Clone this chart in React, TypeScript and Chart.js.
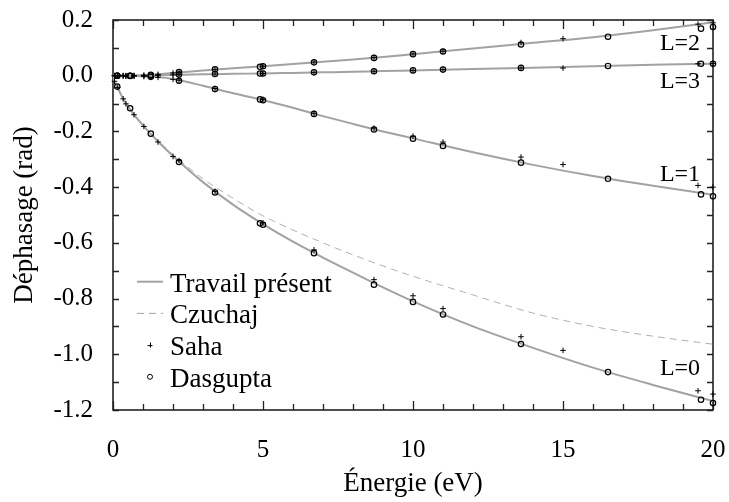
import { useEffect, useRef } from 'react';
import { Chart, registerables } from 'chart.js';

Chart.register(...registerables);

// ---- Data (energies in eV, phase shifts in rad) ----
const curveEnergy = [0, 0.05, 0.15, 0.3, 0.5, 0.75, 1, 1.5, 2, 3, 4, 5, 6, 7, 8, 9, 10, 12, 14, 16, 18, 20];
const travailL0 = [0, -0.02, -0.042, -0.075, -0.11, -0.147, -0.178, -0.236, -0.288, -0.382, -0.463, -0.533, -0.596, -0.653, -0.707, -0.76, -0.81, -0.9, -0.977, -1.048, -1.11, -1.168];
const travailL1 = [0, 0, 0, 0, -0.0005, -0.001, -0.002, -0.005, -0.012, -0.036, -0.063, -0.087, -0.115, -0.145, -0.173, -0.2, -0.225, -0.275, -0.32, -0.36, -0.395, -0.427];
const travailL2 = [0, 0, 0, 0, 0.0005, 0.001, 0.002, 0.005, 0.01, 0.019, 0.027, 0.034, 0.042, 0.05, 0.058, 0.067, 0.077, 0.098, 0.118, 0.138, 0.163, 0.192];
const travailL3 = [0, 0, 0, 0, 0, 0, 0.001, 0.002, 0.003, 0.005, 0.007, 0.008, 0.01, 0.012, 0.014, 0.017, 0.019, 0.024, 0.029, 0.034, 0.039, 0.043];
const czuchajL0 = [0, -0.02, -0.042, -0.075, -0.11, -0.147, -0.177, -0.233, -0.283, -0.37, -0.44, -0.503, -0.554, -0.6, -0.643, -0.683, -0.72, -0.787, -0.852, -0.9, -0.935, -0.964];

const sahaEnergy = [0.05, 0.16, 0.34, 0.43, 0.7, 1.03, 1.5, 2.0, 2.2, 3.4, 5.0, 6.7, 8.7, 10.0, 11.0, 13.6, 15.0, 19.5, 20.0];
const sahaL0 = [-0.02, -0.042, -0.083, -0.101, -0.14, -0.182, -0.238, -0.29, -0.305, -0.415, -0.528, -0.625, -0.732, -0.79, -0.836, -0.937, -0.986, -1.131, -1.143];
const sahaL1 = [0, 0, 0, -0.001, -0.002, -0.003, -0.006, -0.013, -0.016, -0.046, -0.085, -0.135, -0.188, -0.217, -0.238, -0.292, -0.319, -0.394, -0.4];
const sahaL2 = [0, 0, 0, 0, 0.001, 0.002, 0.005, 0.01, 0.013, 0.023, 0.034, 0.049, 0.065, 0.078, 0.088, 0.119, 0.133, 0.185, 0.19];
const sahaL3 = [0, 0, 0, 0, 0, 0, 0.001, 0.003, 0.004, 0.006, 0.008, 0.012, 0.016, 0.019, 0.022, 0.028, 0.0275, 0.043, 0.044];

const dasguptaEnergy = [0.14, 0.57, 1.26, 2.2, 3.4, 4.9, 5.0, 6.7, 8.7, 10.0, 11.0, 13.6, 16.5, 19.6, 20.0];
const dasguptaL0 = [-0.039, -0.117, -0.208, -0.31, -0.419, -0.53, -0.535, -0.637, -0.75, -0.812, -0.857, -0.963, -1.064, -1.163, -1.175];
const dasguptaL1 = [0, -0.001, -0.004, -0.018, -0.048, -0.085, -0.088, -0.137, -0.193, -0.226, -0.252, -0.312, -0.37, -0.426, -0.433];
const dasguptaL2 = [0, 0, 0.003, 0.013, 0.023, 0.032, 0.034, 0.048, 0.064, 0.0775, 0.087, 0.112, 0.14, 0.169, 0.175];
const dasguptaL3 = [0, 0, 0, 0.004, 0.006, 0.008, 0.008, 0.012, 0.016, 0.019, 0.022, 0.028, 0.035, 0.043, 0.043];

const legendLabels = ['Travail présent', 'Czuchaj', 'Saha', 'Dasgupta'];
const waveLabels = ['L=2', 'L=3', 'L=1', 'L=0'];
const waveLabelEnergy = [18.23, 18.23, 18.23, 18.23];
const waveLabelPhase = [0.092, -0.044, -0.379, -1.075];

const xTitle = 'Énergie (eV)';
const yTitle = 'Déphasage (rad)';

const SERIF = "'Liberation Serif', 'Times New Roman', serif";
const CURVE_COLOR = '#a2a2a2';

const toPoints = (xs: number[], ys: number[]) => xs.map((x, i) => ({ x, y: ys[i] }));

const framePlugin = {
  id: 'frameTicks',
  beforeDatasetsDraw(chart: any) {
    const { ctx, chartArea } = chart;
    const { left, right, top, bottom } = chartArea;
    const xs = chart.scales.x;
    const ys = chart.scales.y;
    ctx.save();
    ctx.strokeStyle = '#222';
    ctx.lineWidth = 1.3;
    ctx.beginPath();
    for (let v = 0; v <= 20; v++) {
      const px = Math.round(xs.getPixelForValue(v)) + 0.5;
      const len = v % 5 === 0 ? 9 : 6;
      ctx.moveTo(px, bottom);
      ctx.lineTo(px, bottom - len);
      ctx.moveTo(px, top);
      ctx.lineTo(px, top + len);
    }
    for (let k = -12; k <= 2; k++) {
      const py = Math.round(ys.getPixelForValue(k / 10)) + 0.5;
      ctx.moveTo(left, py);
      ctx.lineTo(left + 6, py);
      ctx.moveTo(right, py);
      ctx.lineTo(right - 6, py);
    }
    ctx.stroke();
    ctx.lineWidth = 1.6;
    ctx.strokeRect(left, top, right - left, bottom - top);
    ctx.restore();
  },
  afterDraw(chart: any) {
    const { ctx, chartArea } = chart;
    const { left, top } = chartArea;
    const xs = chart.scales.x;
    const ys = chart.scales.y;
    ctx.save();
    // legend
    ctx.font = `27px ${SERIF}`;
    ctx.fillStyle = '#000';
    ctx.textBaseline = 'alphabetic';
    ctx.textAlign = 'left';
    const x0 = left + 24;
    const x1 = left + 50;
    const xc = left + 37;
    const tx = left + 57;
    legendLabels.forEach((lab, i) => {
      const base = top + 271.7 + 31.7 * i;
      const sy = base - 10;
      ctx.strokeStyle = i < 2 ? CURVE_COLOR : '#000';
      if (i === 0) {
        ctx.lineWidth = 2;
        ctx.setLineDash([]);
        ctx.beginPath();
        ctx.moveTo(x0, sy);
        ctx.lineTo(x1, sy);
        ctx.stroke();
      } else if (i === 1) {
        ctx.lineWidth = 1;
        ctx.setLineDash([7, 5]);
        ctx.beginPath();
        ctx.moveTo(x0, sy);
        ctx.lineTo(x1, sy);
        ctx.stroke();
        ctx.setLineDash([]);
      } else if (i === 2) {
        ctx.lineWidth = 1;
        ctx.beginPath();
        ctx.moveTo(xc - 2.5, sy + 0.5);
        ctx.lineTo(xc + 2.5, sy + 0.5);
        ctx.moveTo(xc + 0.5, sy - 2.5);
        ctx.lineTo(xc + 0.5, sy + 2.5);
        ctx.stroke();
      } else {
        ctx.lineWidth = 1;
        ctx.beginPath();
        ctx.arc(xc, sy, 2.5, 0, Math.PI * 2);
        ctx.stroke();
      }
      ctx.fillText(lab, tx, base);
    });
    // partial-wave labels
    ctx.font = `24px ${SERIF}`;
    waveLabels.forEach((lab, i) => {
      ctx.fillText(lab, xs.getPixelForValue(waveLabelEnergy[i]), ys.getPixelForValue(waveLabelPhase[i]));
    });
    ctx.restore();
  },
};

export default function App() {
  const ref = useRef<HTMLCanvasElement | null>(null);
  useEffect(() => {
    if (!ref.current) return;
    const pointCommon = {
      showLine: false,
      borderColor: '#000',
      backgroundColor: 'rgba(0,0,0,0)',
      clip: false as any,
    };
    const curveCommon = {
      borderColor: CURVE_COLOR,
      borderWidth: 2,
      pointRadius: 0,
      fill: false,
      cubicInterpolationMode: 'monotone' as const,
    };
    const chart = new Chart(ref.current, {
      type: 'scatter',
      data: {
        datasets: [
          {
            ...pointCommon,
            label: 'Saha',
            data: [
              ...toPoints(sahaEnergy, sahaL0),
              ...toPoints(sahaEnergy, sahaL1),
              ...toPoints(sahaEnergy, sahaL2),
              ...toPoints(sahaEnergy, sahaL3),
            ],
            pointStyle: 'cross',
            pointRadius: 2.8,
            borderWidth: 1,
          },
          {
            ...pointCommon,
            label: 'Dasgupta',
            data: [
              ...toPoints(dasguptaEnergy, dasguptaL0),
              ...toPoints(dasguptaEnergy, dasguptaL1),
              ...toPoints(dasguptaEnergy, dasguptaL2),
              ...toPoints(dasguptaEnergy, dasguptaL3),
            ],
            pointStyle: 'circle',
            pointRadius: 2.7,
            borderWidth: 1.2,
          },
          { ...curveCommon, type: 'line', showLine: true, label: 'Travail présent L=0', data: toPoints(curveEnergy, travailL0) },
          { ...curveCommon, type: 'line', showLine: true, label: 'Travail présent L=1', data: toPoints(curveEnergy, travailL1) },
          { ...curveCommon, type: 'line', showLine: true, label: 'Travail présent L=2', data: toPoints(curveEnergy, travailL2) },
          { ...curveCommon, type: 'line', showLine: true, label: 'Travail présent L=3', data: toPoints(curveEnergy, travailL3) },
          {
            ...curveCommon,
            type: 'line',
            showLine: true,
            label: 'Czuchaj',
            data: toPoints(curveEnergy, czuchajL0),
            borderWidth: 1,
            borderColor: '#b0b0b0',
            borderDash: [7, 5],
          },
        ] as any,
      },
      options: {
        responsive: false,
        animation: false,
        events: [],
        layout: { padding: { left: 0, right: 16, top: 20, bottom: 0 } },
        plugins: { legend: { display: false }, tooltip: { enabled: false } },
        scales: {
          x: {
            type: 'linear',
            min: 0,
            max: 20,
            grid: { display: false, drawTicks: false },
            border: { display: false },
            ticks: { stepSize: 5, color: '#000', padding: 25, font: { family: SERIF, size: 25 } },
            title: { display: true, text: xTitle, color: '#000', padding: { top: 0, bottom: 2 }, font: { family: SERIF, size: 27 } },
            afterFit: (s: any) => {
              s.height = 92;
              s.paddingLeft = 0;
              s.paddingRight = 0;
            },
          },
          y: {
            type: 'linear',
            min: -1.2,
            max: 0.2,
            grid: { display: false, drawTicks: false },
            border: { display: false },
            ticks: {
              stepSize: 0.2,
              color: '#000',
              padding: 20,
              autoSkip: false,
              font: { family: SERIF, size: 25 },
              callback: (v: any) => (Math.abs(Number(v)) < 1e-9 ? '0.0' : Number(v).toFixed(1)),
            },
            title: { display: true, text: yTitle, color: '#000', padding: { top: 9, bottom: 0 }, font: { family: SERIF, size: 27 } },
            afterFit: (s: any) => {
              s.width = 113;
              s.paddingTop = 0;
              s.paddingBottom = 0;
            },
          },
        },
      },
      plugins: [framePlugin],
    });
    return () => chart.destroy();
  }, []);
  return (
    <div style={{ position: 'absolute', left: 0, top: 0, width: 729, height: 502 }}>
      <canvas ref={ref} width={729} height={502} />
    </div>
  );
}
